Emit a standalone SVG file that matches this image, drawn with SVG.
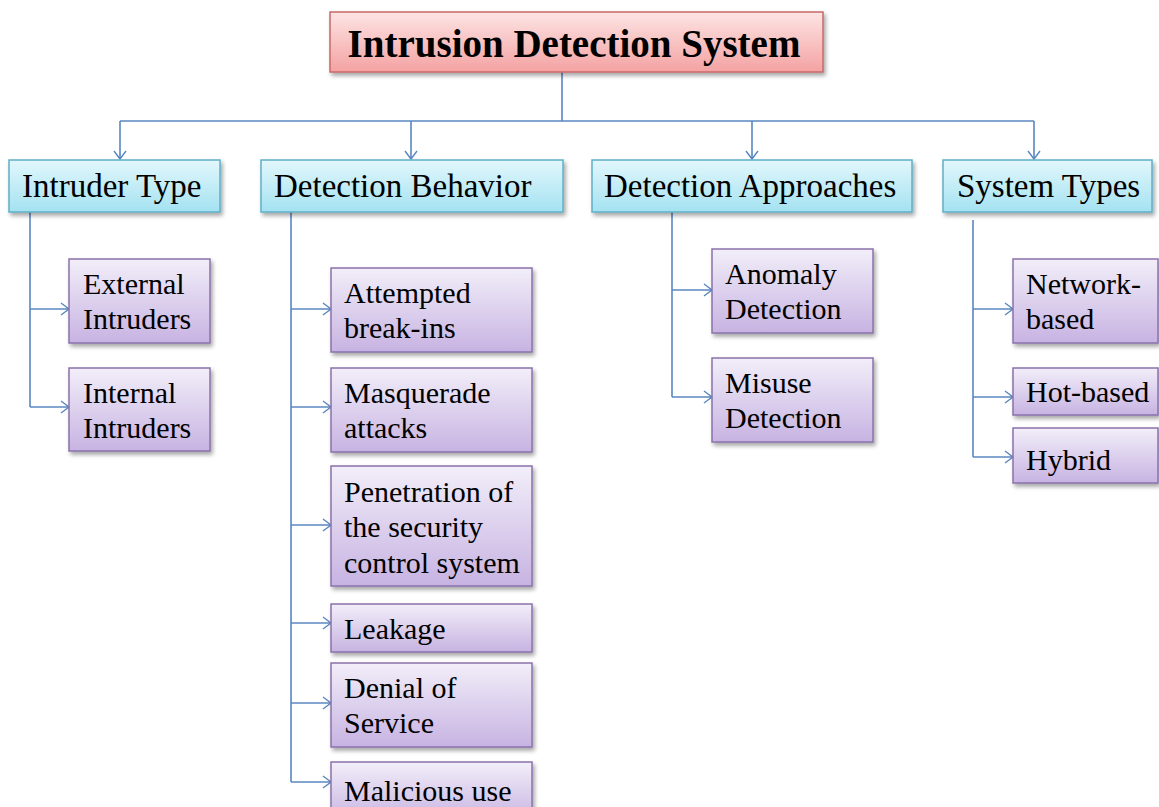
<svg xmlns="http://www.w3.org/2000/svg" width="1159" height="807" viewBox="0 0 1159 807">
  <defs>
    <linearGradient id="gTitle" x1="0" y1="0" x2="0" y2="1">
      <stop offset="0" stop-color="#fde4e4"/>
      <stop offset="1" stop-color="#f4a2a2"/>
    </linearGradient>
    <linearGradient id="gCat" x1="0" y1="0" x2="0" y2="1">
      <stop offset="0" stop-color="#e2f7fc"/>
      <stop offset="1" stop-color="#a4e2f1"/>
    </linearGradient>
    <linearGradient id="gItem" x1="0" y1="0" x2="0" y2="1">
      <stop offset="0" stop-color="#f2eef9"/>
      <stop offset="1" stop-color="#c7b3e2"/>
    </linearGradient>
    <filter id="shadow" x="-10%" y="-20%" width="125%" height="150%">
      <feDropShadow dx="2" dy="3" stdDeviation="2" flood-color="#000" flood-opacity="0.35"/>
    </filter>
    <marker id="arrow" markerUnits="userSpaceOnUse" markerWidth="12" markerHeight="16" refX="9" refY="7" orient="auto" viewBox="0 0 12 16">
      <path d="M1,1 L9,7 L1,13" fill="none" stroke="#5a87c0" stroke-width="1.4"/>
    </marker>
  </defs>
  <style>
    .title { fill: url(#gTitle); stroke: #c86a68; stroke-width: 1.5; filter: url(#shadow); }
    .cat { fill: url(#gCat); stroke: #5fb0c6; stroke-width: 1.5; filter: url(#shadow); }
    .item { fill: url(#gItem); stroke: #8a72ab; stroke-width: 1.5; filter: url(#shadow); }
    .ttl { font-family: "Liberation Serif", "Times New Roman", serif; font-weight: bold; font-size: 39px; fill: #000; }
    .ct { font-family: "Liberation Serif", "Times New Roman", serif; font-size: 33px; fill: #000; }
    .it { font-family: "Liberation Serif", "Times New Roman", serif; font-size: 30px; fill: #000; }
    .conn path { fill: none; stroke: #5a87c0; stroke-width: 1.6; }
  </style>

  <rect width="1159" height="807" fill="#ffffff"/>

  <!-- connectors -->
  <g id="connectors" class="conn">
    <path d="M562,72 V121"/>
    <path d="M120,121 H1034"/>
    <path d="M120,121 V159" marker-end="url(#arrow)"/>
    <path d="M411,121 V159" marker-end="url(#arrow)"/>
    <path d="M752,121 V159" marker-end="url(#arrow)"/>
    <path d="M1034,121 V159" marker-end="url(#arrow)"/>

    <!-- Intruder Type branches -->
    <path d="M30,212 V407"/>
    <path d="M30,309 H69" marker-end="url(#arrow)"/>
    <path d="M30,407 H69" marker-end="url(#arrow)"/>

    <!-- Detection Behavior branches -->
    <path d="M291,212 V782"/>
    <path d="M291,309 H331" marker-end="url(#arrow)"/>
    <path d="M291,407 H331" marker-end="url(#arrow)"/>
    <path d="M291,525 H331" marker-end="url(#arrow)"/>
    <path d="M291,623 H331" marker-end="url(#arrow)"/>
    <path d="M291,703 H331" marker-end="url(#arrow)"/>
    <path d="M291,782 H331" marker-end="url(#arrow)"/>

    <!-- Detection Approaches branches -->
    <path d="M672,212 V397"/>
    <path d="M672,290 H712" marker-end="url(#arrow)"/>
    <path d="M672,397 H712" marker-end="url(#arrow)"/>

    <!-- System Types branches -->
    <path d="M973,220 V457"/>
    <path d="M973,309 H1013" marker-end="url(#arrow)"/>
    <path d="M973,397 H1013" marker-end="url(#arrow)"/>
    <path d="M973,457 H1013" marker-end="url(#arrow)"/>
  </g>

  <!-- root -->
  <g id="ids">
    <rect class="title" x="330" y="12" width="493" height="60"/>
    <text class="ttl" x="574" y="57" text-anchor="middle">Intrusion Detection System</text>
  </g>

  <!-- categories -->
  <g id="intruder-type">
    <rect class="cat" x="9" y="160" width="211" height="52"/>
    <text class="ct" x="22" y="197">Intruder Type</text>
  </g>
  <g id="detection-behavior">
    <rect class="cat" x="261" y="160" width="302" height="52"/>
    <text class="ct" x="274" y="197">Detection Behavior</text>
  </g>
  <g id="detection-approaches">
    <rect class="cat" x="592" y="160" width="320" height="52"/>
    <text class="ct" x="604" y="197">Detection Approaches</text>
  </g>
  <g id="system-types">
    <rect class="cat" x="943" y="160" width="209" height="52"/>
    <text class="ct" x="957" y="197">System Types</text>
  </g>

  <!-- Intruder Type items -->
  <g id="external-intruders">
    <rect class="item" x="69" y="259" width="141" height="84"/>
    <text class="it" x="83" y="294">External</text>
    <text class="it" x="83" y="329">Intruders</text>
  </g>
  <g id="internal-intruders">
    <rect class="item" x="69" y="368" width="141" height="83"/>
    <text class="it" x="83" y="403">Internal</text>
    <text class="it" x="83" y="438">Intruders</text>
  </g>

  <!-- Detection Behavior items -->
  <g id="attempted-break-ins">
    <rect class="item" x="331" y="268" width="201" height="84"/>
    <text class="it" x="344" y="303">Attempted</text>
    <text class="it" x="344" y="338">break-ins</text>
  </g>
  <g id="masquerade-attacks">
    <rect class="item" x="331" y="368" width="201" height="84"/>
    <text class="it" x="344" y="403">Masquerade</text>
    <text class="it" x="344" y="438">attacks</text>
  </g>
  <g id="penetration">
    <rect class="item" x="331" y="466" width="201" height="120"/>
    <text class="it" x="344" y="502">Penetration of</text>
    <text class="it" x="344" y="537">the security</text>
    <text class="it" x="344" y="573">control system</text>
  </g>
  <g id="leakage">
    <rect class="item" x="331" y="604" width="201" height="48"/>
    <text class="it" x="344" y="639">Leakage</text>
  </g>
  <g id="denial-of-service">
    <rect class="item" x="331" y="663" width="201" height="84"/>
    <text class="it" x="344" y="698">Denial of</text>
    <text class="it" x="344" y="733">Service</text>
  </g>
  <g id="malicious-use">
    <rect class="item" x="331" y="762" width="201" height="60"/>
    <text class="it" x="344" y="801">Malicious use</text>
  </g>

  <!-- Detection Approaches items -->
  <g id="anomaly-detection">
    <rect class="item" x="712" y="249" width="161" height="84"/>
    <text class="it" x="725" y="284">Anomaly</text>
    <text class="it" x="725" y="319">Detection</text>
  </g>
  <g id="misuse-detection">
    <rect class="item" x="712" y="358" width="161" height="84"/>
    <text class="it" x="725" y="393">Misuse</text>
    <text class="it" x="725" y="428">Detection</text>
  </g>

  <!-- System Types items -->
  <g id="network-based">
    <rect class="item" x="1013" y="259" width="145" height="84"/>
    <text class="it" x="1026" y="294">Network-</text>
    <text class="it" x="1026" y="329">based</text>
  </g>
  <g id="host-based">
    <rect class="item" x="1013" y="368" width="145" height="47"/>
    <text class="it" x="1026" y="402">Hot-based</text>
  </g>
  <g id="hybrid">
    <rect class="item" x="1013" y="428" width="145" height="55"/>
    <text class="it" x="1026" y="470">Hybrid</text>
  </g>
</svg>
